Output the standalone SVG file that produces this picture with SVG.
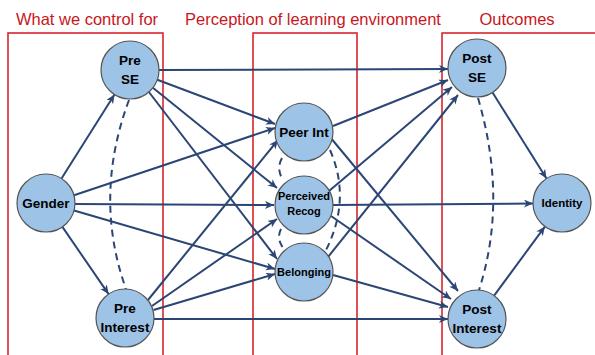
<svg xmlns="http://www.w3.org/2000/svg" width="595" height="355" viewBox="0 0 595 355">
<style>
.title{font-family:"Liberation Sans",Arial,sans-serif;font-size:16.5px;fill:#c8161d;text-anchor:middle}
.box{fill:none;stroke:#d9262b;stroke-width:1.6}
.node circle{fill:#9dc3e6;stroke:#555;stroke-width:1.2}
.node text{font-family:"Liberation Sans",Arial,sans-serif;font-weight:bold;font-size:13.5px;fill:#000;text-anchor:middle}
.node text.s{font-size:11px}
.edge{stroke:#2b4675;stroke-width:2;fill:none;marker-end:url(#ah)}
.corr{stroke:#2b4675;stroke-width:2;fill:none;stroke-dasharray:7 5}
</style>
<defs>
<marker id="ah" markerUnits="userSpaceOnUse" markerWidth="11" markerHeight="9" refX="9" refY="4" orient="auto">
<path d="M0,0 L9,4 L0,8 L2.5,4 z" fill="#2b4675"/>
</marker>
</defs>
<rect width="595" height="355" fill="#fff"/>
<g id="titles">
<text class="title" x="87" y="25">What we control for</text>
<text class="title" x="313" y="25">Perception of learning environment</text>
<text class="title" x="517" y="25">Outcomes</text>
</g>
<g id="boxes">
<rect class="box" x="8" y="33" width="155" height="330"/>
<rect class="box" x="253" y="33" width="104" height="330"/>
<rect class="box" x="442" y="33" width="160" height="330"/>
</g>
<g id="connectors">
<line class="edge" x1="61.5" y1="178.5" x2="114.5" y2="94.5"/>
<line class="edge" x1="62.4" y1="226.9" x2="108.6" y2="294.1"/>
<line class="edge" x1="74" y1="195.3" x2="275" y2="128"/>
<line class="edge" x1="75" y1="204" x2="274" y2="205"/>
<line class="edge" x1="74" y1="210.5" x2="275" y2="269"/>
<line class="edge" x1="159" y1="70" x2="448" y2="69"/>
<line class="edge" x1="157.3" y1="79.7" x2="275" y2="124"/>
<line class="edge" x1="152.9" y1="87.8" x2="277" y2="188"/>
<line class="edge" x1="148.9" y1="92" x2="277" y2="259"/>
<line class="edge" x1="148" y1="300" x2="278" y2="140"/>
<line class="edge" x1="152" y1="306" x2="277" y2="219"/>
<line class="edge" x1="153.5" y1="310" x2="275" y2="274"/>
<line class="edge" x1="154" y1="319" x2="448" y2="319"/>
<line class="edge" x1="333" y1="126" x2="448" y2="80"/>
<line class="edge" x1="330" y1="137" x2="458" y2="291"/>
<line class="edge" x1="329" y1="191" x2="452" y2="87"/>
<line class="edge" x1="333" y1="205" x2="533" y2="203.5"/>
<line class="edge" x1="331" y1="216" x2="451" y2="299"/>
<line class="edge" x1="328" y1="257" x2="458" y2="95"/>
<line class="edge" x1="333" y1="275" x2="448" y2="307"/>
<line class="edge" x1="492.5" y1="92.5" x2="546.5" y2="178.5"/>
<line class="edge" x1="494.1" y1="295.6" x2="544.9" y2="226.6"/>
<path class="corr" d="M129,100 Q93,197 126,289"/>
<path class="corr" d="M478,98 Q508,200 479,290"/>
<path class="corr" d="M282,158 Q276,169 283,180"/>
<path class="corr" d="M281,229 Q276,239 284,249"/>
<path class="corr" d="M330,150 Q352,200 325,252"/>
</g>
<g id="preSE" class="node"><circle cx="130" cy="70" r="29"/><text x="130" y="65">Pre</text><text x="130" y="83.5">SE</text></g>
<g id="gender" class="node"><circle cx="46" cy="203" r="29"/><text x="46" y="208">Gender</text></g>
<g id="preInterest" class="node"><circle cx="125" cy="318" r="29"/><text x="125" y="313">Pre</text><text x="125" y="331.5">Interest</text></g>
<g id="peerInt" class="node"><circle cx="304" cy="132" r="29"/><text x="304" y="137">Peer Int</text></g>
<g id="perceivedRecog" class="node"><circle cx="304" cy="205" r="29"/><text class="s" x="304" y="200">Perceived</text><text class="s" x="304" y="215">Recog</text></g>
<g id="belonging" class="node"><circle cx="304" cy="272" r="29"/><text class="s" x="304" y="276">Belonging</text></g>
<g id="postSE" class="node"><circle cx="477" cy="68" r="29"/><text x="477" y="63">Post</text><text x="477" y="81.5">SE</text></g>
<g id="identity" class="node"><circle cx="562" cy="203" r="29"/><text class="s" x="562" y="207" style="font-size:11.5px">Identity</text></g>
<g id="postInterest" class="node"><circle cx="477" cy="319" r="29"/><text x="477" y="314">Post</text><text x="477" y="332.5">Interest</text></g>
</svg>
